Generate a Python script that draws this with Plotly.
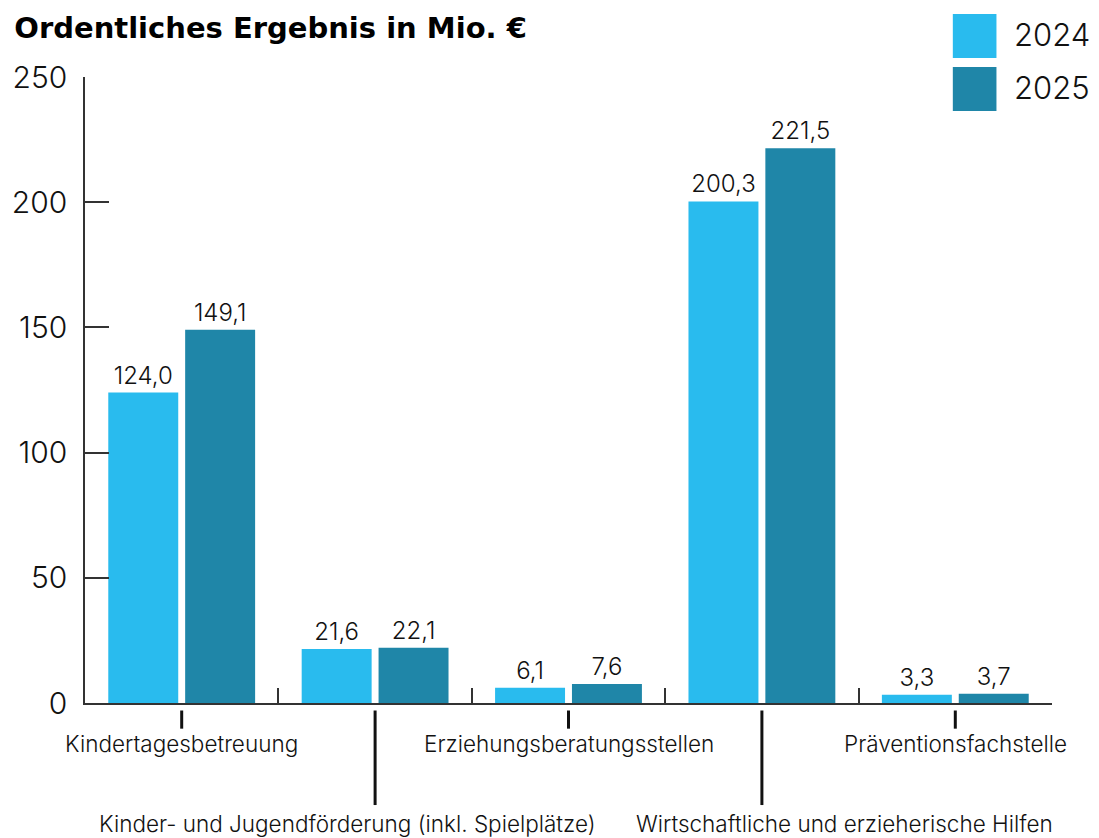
import plotly.graph_objects as go

categories = [
    "Kindertagesbetreuung",
    "Kinder- und Jugendförderung (inkl. Spielplätze)",
    "Erziehungsberatungsstellen",
    "Wirtschaftliche und erzieherische Hilfen",
    "Präventionsfachstelle",
]
values_2024 = [124.0, 21.6, 6.1, 200.3, 3.3]
values_2025 = [149.1, 22.1, 7.6, 221.5, 3.7]
series_names = ["2024", "2025"]
y_ticks = [0, 50, 100, 150, 200, 250]

colors = ["#29BBEE", "#1F86A8"]
FONT = "Inter"

L, R, T, B = 77, 47, 77, 135
W, H = 1099, 838
pw, ph = W - L - R, H - T - B

fig = go.Figure()
for name, vals, col in zip(series_names, [values_2024, values_2025], colors):
    fig.add_trace(go.Bar(
        x=categories, y=vals, name=name, marker_color=col, marker_line_width=0,
        texttemplate="%{y:.1f}", textposition="outside", cliponaxis=False,
        textfont=dict(family=FONT, size=24, color="#111111", weight=300),
        showlegend=False,
    ))

fig.update_layout(
    width=W, height=H,
    margin=dict(l=L, r=R, t=T, b=B),
    paper_bgcolor="white", plot_bgcolor="white",
    barmode="group", bargap=0.205, bargroupgap=0.09,
    separators=",.",
    title=dict(text="<b>Ordentliches Ergebnis in Mio. €</b>", x=0.013, xanchor="left",
               y=0.967, yanchor="middle",
               font=dict(family="DejaVu Sans", size=29, color="#000000")),
)
fig.update_yaxes(
    range=[0, 250], tickvals=y_ticks, showgrid=False, zeroline=False,
    showline=True, linecolor="#333333", linewidth=1.5,
    ticks="inside", ticklen=24, tickcolor="#333333", tickwidth=1.5,
    ticklabelstandoff=10,
    tickfont=dict(family=FONT, size=30, color="#111111", weight=300),
)
fig.update_xaxes(
    range=[-0.5, 4.5],
    showticklabels=False, showgrid=False, zeroline=False,
    showline=True, linecolor="#333333", linewidth=1.5,
    ticks="inside", tickson="boundaries", ticklen=15, tickcolor="#333333", tickwidth=1.5,
)

# staggered category labels with leader ticks
lbl_font = dict(family=FONT, size=22.5, color="#111111", weight=300)
for i, cat in enumerate(categories):
    low = i % 2 == 1
    y_end = -0.163 if low else -0.041
    fig.add_shape(type="line", xref="x", yref="paper", x0=i, x1=i, y0=-0.012, y1=y_end,
                  line=dict(color="#111111", width=3))
    if i == 1:
        fig.add_annotation(x=(594 - L) / pw, xref="paper", yref="paper", y=-0.193, text=cat,
                           showarrow=False, yanchor="middle", xanchor="right", font=lbl_font)
    elif i == 3:
        fig.add_annotation(x=(1055 - L) / pw, xref="paper", yref="paper", y=-0.193, text=cat,
                           showarrow=False, yanchor="middle", xanchor="right", font=lbl_font)
    else:
        fig.add_annotation(x=i, xref="x", yref="paper", y=-0.064, text=cat,
                           showarrow=False, yanchor="middle", xanchor="center", font=lbl_font)

# legend drawn as squares + labels
for k, (name, col) in enumerate(zip(series_names, colors)):
    fig.add_shape(type="rect", xref="paper", yref="paper",
                  x0=(952 - L) / pw, x1=(996 - L) / pw, y0=(H - (58 + 53 * k) - B) / ph,
                  y1=(H - (14 + 53 * k) - B) / ph, line_width=0, fillcolor=col)
    fig.add_annotation(xref="paper", yref="paper", x=(1012 - L) / pw,
                       y=(H - (35 + 53 * k) - B) / ph, text=name, showarrow=False,
                       xanchor="left", yanchor="middle",
                       font=dict(family=FONT, size=31, color="#111111", weight=300))

fig.write_html("out.html", config={"displayModeBar": False},
               post_script="document.body.style.margin='0';document.body.style.overflow='hidden';")
